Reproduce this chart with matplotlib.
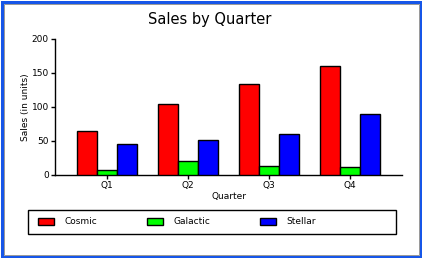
import matplotlib
matplotlib.use("Agg")
import matplotlib.pyplot as plt
from matplotlib.patches import Rectangle
import numpy as np

quarters = ["Q1", "Q2", "Q3", "Q4"]
series_names = ["Cosmic", "Galactic", "Stellar"]
cosmic = [65, 105, 134, 160]
galactic = [8, 20, 13, 12]
stellar = [45, 51, 60, 89]
colors = ["#ff0000", "#00ff00", "#0000ff"]
yticks = [0, 50, 100, 150, 200]

W, H = 422, 258
fig = plt.figure(figsize=(W / 100, H / 100), dpi=100)
fig.patch.set_facecolor("white")
plt.rcParams["font.family"] = ["DejaVu Sans"]

# window-like border
fig.patches.append(Rectangle((1.5 / W, 1.5 / H), 1 - 3 / W, 1 - 3 / H, transform=fig.transFigure,
                             fill=False, edgecolor="#1656e8", linewidth=3 * 0.72))
fig.patches.append(Rectangle((3.5 / W, 3.5 / H), 1 - 7 / W, 1 - 7 / H, transform=fig.transFigure,
                             fill=False, edgecolor="#9a9a9a", linewidth=1 * 0.72))

ax = fig.add_axes([55 / W, 1 - 175 / H, (402 - 55) / W, (175 - 39) / H])
x = np.arange(len(quarters))
w = 0.247
for i, (name, vals) in enumerate(zip(series_names, [cosmic, galactic, stellar])):
    ax.bar(x + (i - 1) * w, vals, width=w, color=colors[i], edgecolor="black",
           linewidth=1.0, label=name, zorder=3)

ax.set_xlim(-0.64, 3.64)
ax.set_ylim(0, 200)
ax.set_yticks(yticks)
ax.set_xticks(x)
ax.set_xticklabels(quarters)
ax.spines["top"].set_visible(False)
ax.spines["right"].set_visible(False)
for s in ("left", "bottom"):
    ax.spines[s].set_linewidth(1.0)
ax.tick_params(axis="both", labelsize=6.5, width=1.0, length=3, pad=1.5)
ax.set_xlabel("Quarter", fontsize=6.5, labelpad=1)
ax.set_ylabel("Sales (in units)", fontsize=6.5, labelpad=1)
fig.text(210 / W, 1 - 19.5 / H, "Sales by Quarter", ha="center", va="center", fontsize=10.5)

# legend box
fig.patches.append(Rectangle((27.5 / W, 1 - 233.5 / H), 368 / W, 24 / H, transform=fig.transFigure,
                             fill=False, edgecolor="black", linewidth=1.0))
leg = fig.legend(loc="center left", ncol=3,
                 bbox_to_anchor=(29 / W, 1 - 222 / H),
                 fontsize=6.5, frameon=False, borderaxespad=0,
                 handlelength=1.75, handleheight=0.9, handletextpad=1.2,
                 columnspacing=5.48, borderpad=1.0)

fig.savefig("out.png", dpi=100)
